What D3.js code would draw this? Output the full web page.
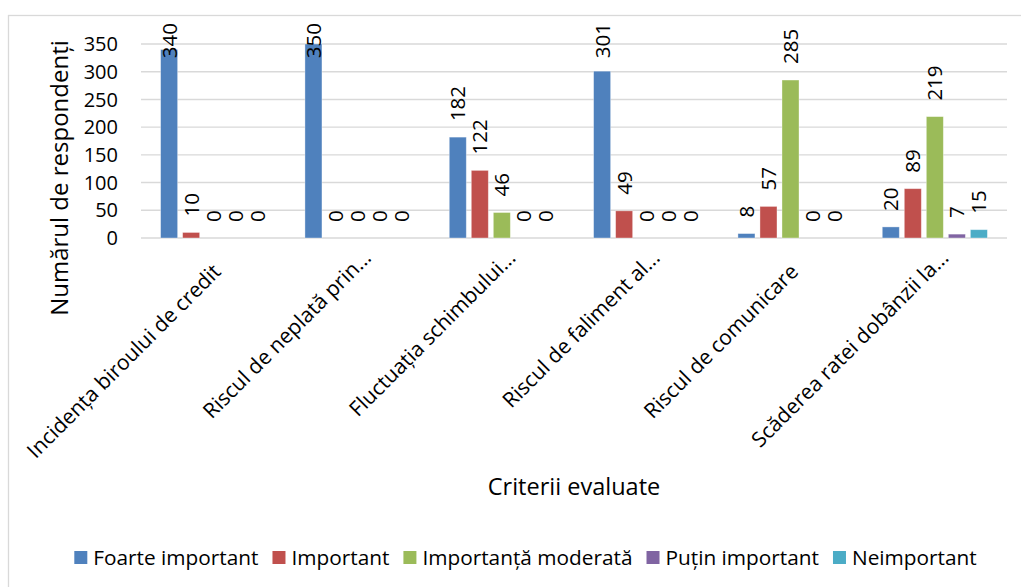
<!DOCTYPE html>
<html>
<head>
<meta charset="utf-8">
<script src="https://cdn.jsdelivr.net/npm/d3@7"></script>
<style>
  html, body { margin: 0; padding: 0; background: #fff; }
  svg text { font-family: "Open Sans", "Noto Sans", sans-serif; fill: #000; }
</style>
</head>
<body>
<svg id="chart" width="1021" height="587"></svg>
<script>
// Criteria evaluated by respondents
const categories = [
  "Incidența biroului de credit",
  "Riscul de neplată prin...",
  "Fluctuația schimbului...",
  "Riscul de faliment al...",
  "Riscul de comunicare",
  "Scăderea ratei dobânzii la..."
];

const seriesNames = [
  "Foarte important",
  "Important",
  "Importanță moderată",
  "Puțin important",
  "Neimportant"
];

const foarteImportant    = [340, 350, 182, 301, 8, 20];
const important          = [10, 0, 122, 49, 57, 89];
const importantaModerata = [0, 0, 46, 0, 285, 219];
const putinImportant     = [0, 0, 0, 0, 0, 7];
const neimportant        = [0, 0, 0, 0, 0, 15];

const seriesColors = ["#4f81bd", "#c0504d", "#9bbb59", "#8064a2", "#4bacc6"];
const yTicks = [0, 50, 100, 150, 200, 250, 300, 350];

const seriesValues = [foarteImportant, important, importantaModerata, putinImportant, neimportant];

const svg = d3.select("#chart");
const gridColor = "#d9d9d9";

// outer chart frame
svg.append("rect")
  .attr("x", 8.5).attr("y", 15.5)
  .attr("width", 1030).attr("height", 600)
  .attr("fill", "#fff")
  .attr("stroke", gridColor).attr("stroke-width", 1.3);

const plot = { left: 141, right: 1007, top: 44, bottom: 238 };

const x0 = d3.scaleBand()
  .domain(categories)
  .range([plot.left, plot.right])
  .paddingInner(0).paddingOuter(0);

const x1 = d3.scaleBand()
  .domain(seriesNames)
  .range([0, x0.bandwidth()])
  .paddingInner(0.227)
  .paddingOuter(0.89);

const y = d3.scaleLinear().domain([0, 350]).range([plot.bottom, plot.top]);

// horizontal gridlines (the 0 line doubles as the category axis)
svg.append("g").selectAll("line")
  .data(yTicks)
  .join("line")
  .attr("x1", plot.left).attr("x2", plot.right)
  .attr("y1", d => y(d)).attr("y2", d => y(d))
  .attr("stroke", gridColor).attr("stroke-width", 1.4);

// value axis labels
svg.append("g").selectAll("text")
  .data(yTicks)
  .join("text")
  .attr("x", 118)
  .attr("y", d => y(d))
  .attr("dy", "0.36em")
  .attr("text-anchor", "end")
  .attr("font-size", 20)
  .text(d => d);

// bars
const rows = [];
categories.forEach((c, ci) => {
  seriesNames.forEach((s, si) => {
    rows.push({ cat: c, ser: s, si, value: seriesValues[si][ci] });
  });
});

const barG = svg.append("g");
barG.selectAll("rect")
  .data(rows)
  .join("rect")
  .attr("x", d => x0(d.cat) + x1(d.ser))
  .attr("width", x1.bandwidth())
  .attr("y", d => y(d.value))
  .attr("height", d => y(0) - y(d.value))
  .attr("fill", d => seriesColors[d.si])
  .attr("stroke", "rgba(255,255,255,0.45)")
  .attr("stroke-width", 0.8);

// value labels, rotated, kept inside the chart frame
const labelG = svg.append("g");
labelG.selectAll("text")
  .data(rows)
  .join("text")
  .attr("font-size", 20.5)
  .attr("text-anchor", "start")
  .attr("dy", "0.36em")
  .text(d => d.value)
  .each(function (d) {
    const len = this.getComputedTextLength();
    const cx = x0(d.cat) + x1(d.ser) + x1.bandwidth() / 2;
    const ty = Math.max(y(d.value) - 16, 23 + len);
    d3.select(this).attr("transform", `translate(${cx},${ty}) rotate(-90)`);
  });

// category labels at -45°
svg.append("g").selectAll("text")
  .data(categories)
  .join("text")
  .attr("font-size", 21)
  .attr("text-anchor", "end")
  .attr("transform", d => {
    const cx = x0(d) + x0.bandwidth() / 2;
    const cut = d.endsWith("...");
    const dx = cut ? 15 : 9;
    const ty = cut ? 259 : 273;
    return `translate(${cx + dx},${ty}) rotate(-45)`;
  })
  .text(d => d);

// axis titles
svg.append("text")
  .attr("x", (plot.left + plot.right) / 2)
  .attr("y", 495)
  .attr("text-anchor", "middle")
  .attr("font-size", 23.5)
  .text("Criterii evaluate");

svg.append("text")
  .attr("transform", `translate(68,178) rotate(-90)`)
  .attr("text-anchor", "middle")
  .attr("font-size", 24)
  .text("Numărul de respondenți");

// legend
const legend = svg.append("g");
const items = legend.selectAll("g")
  .data(seriesNames)
  .join("g");
items.append("rect")
  .attr("width", 13).attr("height", 13)
  .attr("y", 551)
  .attr("fill", (d, i) => seriesColors[i]);
items.append("text")
  .attr("y", 564.5)
  .attr("font-size", 20.8)
  .text(d => d);

let widths = [];
items.select("text").each(function () { widths.push(this.getComputedTextLength()); });
const sq = 13, gapIn = 6, gapOut = 14;
const total = d3.sum(widths) + seriesNames.length * (sq + gapIn) + (seriesNames.length - 1) * gapOut;
let cursor = 525.5 - total / 2;
items.each(function (d, i) {
  const g = d3.select(this);
  g.select("rect").attr("x", cursor);
  g.select("text").attr("x", cursor + sq + gapIn);
  cursor += sq + gapIn + widths[i] + gapOut;
});
</script>
</body>
</html>
